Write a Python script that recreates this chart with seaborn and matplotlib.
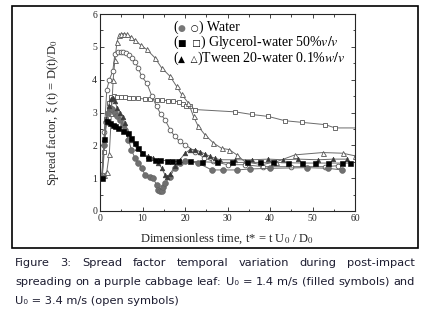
import matplotlib
matplotlib.use("Agg")
import matplotlib.pyplot as plt
from matplotlib.patches import Rectangle
from matplotlib.ticker import MultipleLocator
import seaborn as sns

# spread factor data
# U0 = 3.4 m/s (open symbols)
water_fast_t = [0.5, 1.0, 1.6, 2.2, 3.0, 3.5, 4.3, 4.9, 5.5, 6.2, 6.8, 7.5, 8.2, 9.0, 9.8, 11.0, 12.2, 13.3,
                14.3, 15.3, 16.5, 17.6, 18.8, 20.0, 22.4, 24.5, 26.6, 30.0, 34.0, 38.4, 45.0, 53.0, 56.0]
water_fast_xi = [1.1, 2.4, 3.7, 4.0, 4.26, 4.77, 4.85, 4.85, 4.85, 4.82, 4.75, 4.67, 4.55, 4.36, 4.1, 3.9, 3.5, 3.19,
                 2.95, 2.78, 2.48, 2.27, 2.12, 2.02, 1.81, 1.62, 1.51, 1.41, 1.41, 1.35, 1.35, 1.35, 1.38]

glyc_fast_t = [0.5, 1.0, 1.5, 2.0, 2.6, 3.2, 4.0, 5.0, 5.9, 6.8, 7.8, 9.0, 10.6, 11.8, 13.3, 14.5, 16.0, 17.1,
               18.5, 19.6, 20.2, 21.2, 22.4, 31.8, 35.7, 39.6, 43.5, 47.5, 53.0, 55.3, 61.0]
glyc_fast_xi = [1.0, 1.8, 2.8, 3.3, 3.48, 3.5, 3.48, 3.47, 3.46, 3.45, 3.45, 3.43, 3.41, 3.4, 3.38, 3.38, 3.36, 3.35,
                3.33, 3.25, 3.2, 3.19, 3.09, 3.02, 2.94, 2.88, 2.75, 2.7, 2.63, 2.53, 2.53]

tween_fast_t = [1.0, 1.6, 2.2, 2.7, 3.1, 3.5, 4.0, 4.5, 5.0, 5.6, 6.3, 7.2, 8.2, 9.6, 11.0, 12.9, 14.5, 16.5,
                18.0, 19.2, 20.8, 22.0, 23.1, 24.7, 26.7, 28.6, 30.4, 32.2, 34.0, 38.0, 41.5, 45.9, 52.4, 57.1, 60.0]
tween_fast_xi = [1.1, 1.2, 1.75, 3.0, 4.0, 4.6, 5.15, 5.35, 5.4, 5.4, 5.38, 5.3, 5.2, 5.05, 4.92, 4.67, 4.36, 4.1,
                 3.8, 3.55, 3.29, 2.88, 2.58, 2.32, 2.07, 1.91, 1.87, 1.71, 1.51, 1.41, 1.5, 1.71, 1.78, 1.76, 1.68]

# U0 = 1.4 m/s (filled symbols)
water_slow_t = [0.4, 0.9, 1.4, 1.9, 2.35, 2.9, 3.5, 4.1, 4.7, 5.3, 5.9, 6.7, 7.4, 8.2, 9.0, 9.8, 10.6, 11.8, 12.5,
                13.3, 13.7, 14.1, 14.5, 14.9, 15.3, 16.5, 17.6, 18.8, 20.0, 23.1, 26.3, 29.0, 32.2, 35.3, 40.0,
                48.6, 53.7, 56.9]
water_slow_xi = [1.05, 2.0, 2.7, 3.0, 3.14, 3.1, 2.99, 2.9, 2.78, 2.63, 2.48, 2.17, 1.87, 1.61, 1.46, 1.31, 1.1, 1.03,
                 1.0, 0.8, 0.64, 0.62, 0.6, 0.72, 0.85, 1.05, 1.31, 1.46, 1.51, 1.46, 1.25, 1.25, 1.25, 1.28, 1.3,
                 1.32, 1.3, 1.25]

glyc_slow_t = [0.5, 1.0, 1.6, 2.35, 3.0, 3.6, 4.3, 5.5, 6.7, 7.4, 8.2, 9.0, 9.8, 11.4, 12.9, 14.1, 15.7, 16.9,
               18.4, 21.2, 24.0, 27.5, 31.0, 34.5, 37.6, 40.7, 44.3, 47.5, 50.6, 53.7, 56.9, 58.8]
glyc_slow_xi = [1.0, 2.2, 2.73, 2.68, 2.62, 2.58, 2.53, 2.43, 2.38, 2.22, 2.07, 1.92, 1.76, 1.61, 1.56, 1.56, 1.53,
                1.51, 1.51, 1.51, 1.5, 1.48, 1.48, 1.48, 1.48, 1.48, 1.47, 1.46, 1.46, 1.46, 1.46, 1.46]

tween_slow_t = [0.5, 1.0, 1.5, 2.0, 2.5, 3.0, 3.5, 4.0, 4.7, 5.3, 5.9, 6.7, 7.4, 8.6, 9.8, 11.4, 12.5, 13.7, 14.5,
                15.3, 15.7, 16.5, 17.6, 18.8, 20.0, 21.2, 22.4, 23.5, 24.7, 25.9, 27.0, 28.2, 31.8, 35.7, 39.6,
                43.1, 46.7, 51.4, 54.9, 58.0]
tween_slow_xi = [1.0, 2.2, 2.8, 3.2, 3.4, 3.45, 3.35, 3.15, 2.99, 2.85, 2.68, 2.38, 2.17, 1.91, 1.76, 1.66, 1.61,
                 1.46, 1.31, 1.1, 1.03, 1.13, 1.36, 1.56, 1.76, 1.87, 1.87, 1.81, 1.74, 1.66, 1.61, 1.56, 1.56,
                 1.56, 1.58, 1.56, 1.58, 1.56, 1.58, 1.58]

SERIF = "Liberation Serif"
SYM = "DejaVu Sans"
legend_lines = [
    [("(", "black", SERIF), ("\u25cf", "#777777", SYM), ("  \u25cb", "black", SYM), (") Water", "black", SERIF)],
    [("(", "black", SERIF), ("\u25a0  \u25a1", "black", SYM), (") Glycerol-water 50%$v/v$", "black", SERIF)],
    [("(", "black", SERIF), ("\u25b2  \u25b3", "black", SYM), (")Tween 20-water 0.1%$w/v$", "black", SERIF)],
]

caption_lines = [
    "Figure 3: Spread factor temporal variation during post-impact",
    "spreading on a purple cabbage leaf: U\u2080 = 1.4 m/s (filled symbols) and",
    "U\u2080 = 3.4 m/s (open symbols)",
]

sns.set_style("ticks")
plt.rcParams["font.family"] = [SERIF, "DejaVu Sans"]
plt.rcParams["mathtext.fontset"] = "stix"

fig = plt.figure(figsize=(4.27, 3.17), dpi=100)
ax = fig.add_axes([0.2342, 0.3344, 0.5972, 0.6214])

line_col = "#6a6a6a"
edge_col = "#555555"

# open symbols first, filled ones on top
sns.lineplot(x=glyc_fast_t, y=glyc_fast_xi, ax=ax, color=line_col, lw=0.7, marker="s", markersize=3.4,
             markerfacecolor="white", markeredgecolor=edge_col, markeredgewidth=0.6, estimator=None, sort=False)
sns.lineplot(x=tween_fast_t, y=tween_fast_xi, ax=ax, color=line_col, lw=0.7, marker="^", markersize=3.6,
             markerfacecolor="white", markeredgecolor=edge_col, markeredgewidth=0.6, estimator=None, sort=False)
sns.lineplot(x=water_fast_t, y=water_fast_xi, ax=ax, color=line_col, lw=0.7, marker="o", markersize=3.4,
             markerfacecolor="white", markeredgecolor=edge_col, markeredgewidth=0.6, estimator=None, sort=False)
sns.lineplot(x=water_slow_t, y=water_slow_xi, ax=ax, color=line_col, lw=0.7, marker="o", markersize=4.2,
             markerfacecolor="#707070", markeredgecolor="#606060", markeredgewidth=0.4, estimator=None, sort=False)
sns.lineplot(x=tween_slow_t, y=tween_slow_xi, ax=ax, color=line_col, lw=0.7, marker="^", markersize=3.4,
             markerfacecolor="#3a3a3a", markeredgecolor="#3a3a3a", markeredgewidth=0.4, estimator=None, sort=False)
sns.lineplot(x=glyc_slow_t, y=glyc_slow_xi, ax=ax, color=line_col, lw=0.7, marker="s", markersize=3.6,
             markerfacecolor="black", markeredgecolor="black", markeredgewidth=0.4, estimator=None, sort=False)

ax.set_xlim(0, 60)
ax.set_ylim(0, 6)
ax.xaxis.set_major_locator(MultipleLocator(10))
ax.xaxis.set_minor_locator(MultipleLocator(5))
ax.yaxis.set_major_locator(MultipleLocator(1))
ax.yaxis.set_minor_locator(MultipleLocator(0.5))
ax.tick_params(which="both", direction="in", top=True, right=True, width=0.6, labelsize=7, pad=2)
ax.tick_params(which="major", length=3)
ax.tick_params(which="minor", length=1.8)
for s in ax.spines.values():
    s.set_linewidth(0.8)

ax.set_xlabel("Dimensionless time, t* = t U$_0$ / D$_0$", fontsize=9)
ax.set_ylabel("Spread factor, \u03be (t) = D(t)/D$_0$", fontsize=9)
ax.xaxis.set_label_coords(0.5, -0.105)
ax.yaxis.set_label_coords(-0.152, 0.5)

# frame around the figure panel
fig.add_artist(Rectangle((0.028, 0.218), 0.951, 0.763, transform=fig.transFigure,
                         fill=False, lw=1.2, ec="black"))

fig.canvas.draw()
r = fig.canvas.get_renderer()

# legend written as text, like in the paper; segments laid out side by side on one baseline
ax_w = ax.get_window_extent(r).width
for ypos, parts in zip([0.915, 0.838, 0.757], legend_lines):
    x = 0.286
    for txt, col, fam in parts:
        t = ax.text(x, ypos, txt, transform=ax.transAxes, color=col, family=fam,
                    fontsize=10 if fam == SERIF else 6.5, va="baseline", ha="left")
        x += t.get_window_extent(r).width / ax_w

# justified caption
x0, x1 = 15 / 427, 415 / 427
for i, (line, ypix) in enumerate(zip(caption_lines, [263, 282, 301])):
    y = 1 - ypix / 317
    if i == len(caption_lines) - 1:
        fig.text(x0, y, line, family="DejaVu Sans", fontsize=8.2, color="#1c1c30", va="center")
        continue
    words = line.split(" ")
    texts = [fig.text(0, y, w, family="DejaVu Sans", fontsize=8.2, color="#1c1c30", va="center") for w in words]
    widths = [t.get_window_extent(r).width / fig.bbox.width for t in texts]
    gap = (x1 - x0 - sum(widths)) / (len(words) - 1)
    x = x0
    for t, w in zip(texts, widths):
        t.set_x(x)
        x += w + gap

fig.savefig("out.png", dpi=100)
